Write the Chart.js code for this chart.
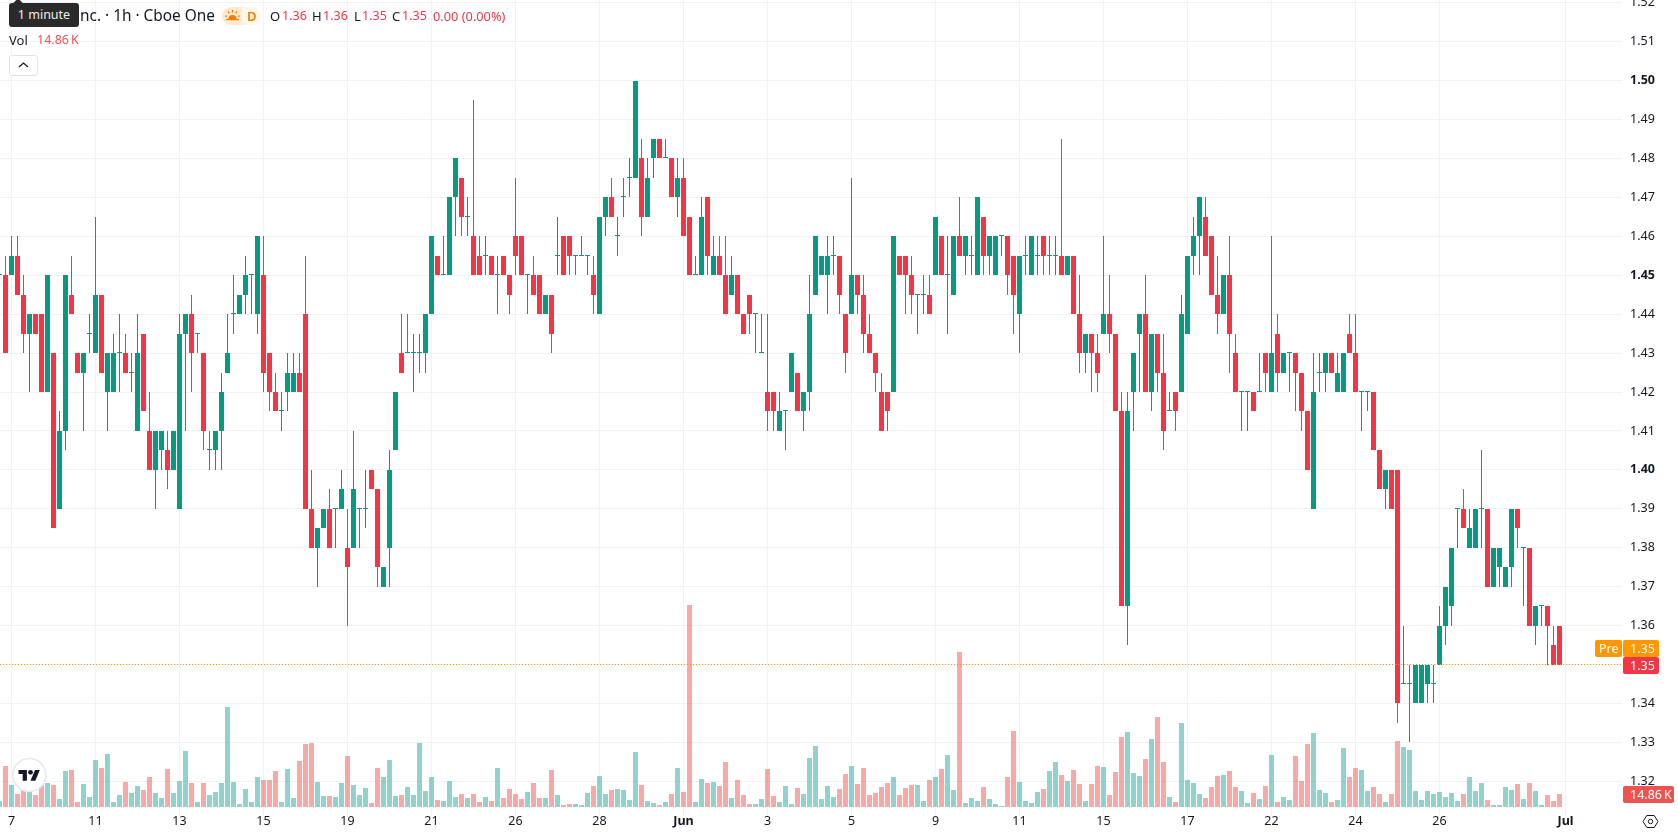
<!DOCTYPE html>
<html>
<head>
<meta charset="utf-8">
<title>1h chart</title>
<script src="https://cdn.jsdelivr.net/npm/chart.js@4/dist/chart.umd.min.js"></script>
<style>
  html, body { margin: 0; padding: 0; background: #fff; overflow: hidden; }
  body { width: 1678px; height: 835px; position: relative; font-family: "Noto Sans", sans-serif; font-size: 12.5px; color: #131722; }
  canvas { position: absolute; left: 0; top: 0; }
  .t { position: absolute; white-space: nowrap; line-height: 18px; }
  .red { color: #f23645; }
  .pill { position: absolute; left: 222px; top: 7px; width: 39px; height: 18px; border-radius: 9px; overflow: hidden; background: #fff6ea; }
  .pill i { position: absolute; left: 0; top: 0; width: 20px; height: 18px; background: #ffe9cf; }
  .tip { position: absolute; left: 9px; top: 3px; width: 70px; height: 24px; border-radius: 3px; background: #2a2a2a; color: #eee; text-align: center; line-height: 24px; }
  .tip:before { content: ""; position: absolute; left: 5px; top: -3px; width: 8px; height: 8px; background: #2a2a2a; transform: rotate(45deg); }
  .btn { position: absolute; left: 9px; top: 55px; width: 27px; height: 19px; border: 1px solid #e0e3eb; border-radius: 3px; background: #fff; }
  svg { position: absolute; }
</style>
</head>
<body>
<canvas id="chart" width="1678" height="835"></canvas>

<div class="t" style="left:80px;top:6px;font-size:15.4px;line-height:20px">nc. · 1h · Cboe One</div>
<div class="tip">1 minute</div>
<div class="pill"><i></i></div>
<svg style="left:225px;top:9px" width="15" height="13" viewBox="0 0 15 13" fill="#f57c00">
  <path d="M3.5 10a4 4 0 0 1 8 0z"/><rect x="1" y="10" width="13" height="1.2"/>
  <rect x="6.9" y="1" width="1.2" height="2.6"/><rect x="0" y="6.5" width="2" height="1.2"/><rect x="13" y="6.5" width="2" height="1.2"/>
  <path d="M2.6 2.8l1-.7 1.2 1.9-1 .7zM12.4 2.8l-1-.7-1.2 1.9 1 .7z"/>
</svg>
<div class="t" style="left:247px;top:7px;color:#f57c00;font-weight:600;font-size:13px">D</div>
<div class="t" style="left:270px;top:7px;font-size:13px">O</div><div class="t red" style="left:282px;top:7px">1.36</div>
<div class="t" style="left:312px;top:7px;font-size:13px">H</div><div class="t red" style="left:323px;top:7px">1.36</div>
<div class="t" style="left:354px;top:7px;font-size:13px">L</div><div class="t red" style="left:362px;top:7px">1.35</div>
<div class="t" style="left:392px;top:7px;font-size:13px">C</div><div class="t red" style="left:402px;top:7px">1.35</div>
<div class="t red" style="left:433px;top:7px;font-size:12.8px">0.00 (0.00%)</div>
<div class="t" style="left:9px;top:31px;font-size:13px">Vol</div>
<div class="t" style="left:37px;top:31px;color:#ef5350">14.86&#8201;K</div>
<div class="btn"></div>
<svg style="left:17px;top:61px" width="13" height="8" viewBox="0 0 13 8" fill="none" stroke="#131722" stroke-width="1.3"><path d="M2 6l4.5-4 4.5 4"/></svg>

<svg style="left:11px;top:756px" width="37" height="37" viewBox="0 0 37 37">
  <circle cx="18.3" cy="19" r="16.5" fill="#fff" stroke="#e9e9e9" stroke-width="1.6"/>
  <g transform="translate(7.5 11.5) scale(0.6)" fill="#131722">
    <path d="M14 22H7V11H0V4h14v18zM28 22h-8l7.5-18h8L28 22z"/><circle cx="20" cy="8" r="4"/>
  </g>
</svg>
<svg style="left:1642px;top:814px" width="17" height="15" viewBox="0 0 17 15" fill="none" stroke="#131722" stroke-width="1">
  <path d="M1 7.5L4.8 1.5h7.4L16 7.5l-3.8 6H4.8z"/><circle cx="8.5" cy="7.5" r="2.2"/>
</svg>

<script>
// hourly candles, left to right
const opens = [
  1.45,1.45,1.45,1.455,1.445,1.435,1.44,1.44,1.42,1.43,1.39,1.41,1.445,1.43,1.425,1.435,1.43,1.445,1.42,1.42,
  1.43,1.43,1.425,1.41,1.435,1.41,1.40,1.405,1.405,1.40,1.39,1.435,1.44,1.435,1.43,1.405,1.405,1.41,1.425,1.44,
  1.44,1.445,1.45,1.44,1.45,1.43,1.42,1.415,1.42,1.42,1.425,1.44,1.39,1.38,1.385,1.39,1.39,1.39,1.38,1.38,
  1.39,1.39,1.40,1.395,1.37,1.38,1.405,1.43,1.43,1.43,1.43,1.43,1.44,1.455,1.45,1.45,1.47,1.475,1.465,1.46,
  1.455,1.455,1.455,1.45,1.455,1.45,1.46,1.46,1.45,1.45,1.45,1.44,1.445,1.455,1.46,1.46,1.455,1.455,1.455,1.45,
  1.44,1.465,1.47,1.46,1.47,1.475,1.475,1.48,1.465,1.48,1.485,1.48,1.48,1.47,1.475,1.465,1.45,1.45,1.47,1.45,
  1.455,1.45,1.445,1.45,1.44,1.445,1.44,1.43,1.42,1.42,1.41,1.415,1.42,1.425,1.415,1.42,1.445,1.45,1.45,1.455,
  1.455,1.44,1.44,1.45,1.445,1.435,1.43,1.42,1.42,1.42,1.455,1.455,1.45,1.445,1.445,1.445,1.45,1.46,1.45,1.445,
  1.46,1.455,1.455,1.45,1.465,1.455,1.45,1.46,1.46,1.455,1.44,1.455,1.45,1.455,1.46,1.455,1.455,1.455,1.45,1.455,
  1.44,1.43,1.435,1.43,1.435,1.44,1.435,1.415,1.365,1.42,1.435,1.44,1.42,1.435,1.425,1.415,1.42,1.42,1.435,1.455,
  1.46,1.465,1.46,1.445,1.44,1.45,1.43,1.42,1.42,1.42,1.42,1.43,1.42,1.435,1.425,1.43,1.43,1.425,1.415,1.39,
  1.425,1.425,1.43,1.42,1.42,1.435,1.43,1.42,1.42,1.42,1.405,1.395,1.40,1.40,1.345,1.345,1.34,1.34,1.345,1.345,
  1.35,1.36,1.365,1.39,1.39,1.38,1.38,1.39,1.39,1.37,1.375,1.37,1.375,1.39,1.38,1.38,1.36,1.365,1.365,1.355,1.36
];
const highs = [
  1.45,1.455,1.46,1.46,1.45,1.44,1.44,1.44,1.45,1.43,1.415,1.45,1.455,1.43,1.43,1.44,1.465,1.445,1.43,1.435,
  1.44,1.435,1.43,1.44,1.435,1.42,1.41,1.41,1.41,1.41,1.44,1.44,1.445,1.435,1.43,1.41,1.41,1.425,1.44,1.45,
  1.445,1.455,1.45,1.46,1.46,1.43,1.425,1.42,1.43,1.43,1.43,1.455,1.40,1.385,1.39,1.395,1.39,1.40,1.39,1.41,
  1.39,1.40,1.40,1.395,1.375,1.405,1.42,1.44,1.44,1.435,1.435,1.44,1.46,1.455,1.46,1.47,1.48,1.475,1.47,1.495,
  1.46,1.46,1.455,1.455,1.455,1.45,1.475,1.46,1.45,1.455,1.45,1.445,1.445,1.465,1.46,1.46,1.455,1.46,1.455,1.455,
  1.465,1.47,1.475,1.465,1.475,1.48,1.50,1.485,1.48,1.485,1.485,1.485,1.48,1.48,1.48,1.465,1.455,1.47,1.47,1.46,
  1.46,1.46,1.455,1.45,1.44,1.445,1.44,1.44,1.44,1.42,1.42,1.415,1.43,1.425,1.42,1.45,1.46,1.455,1.46,1.46,
  1.455,1.44,1.475,1.45,1.45,1.44,1.43,1.425,1.42,1.46,1.455,1.455,1.455,1.445,1.45,1.45,1.465,1.46,1.46,1.46,
  1.47,1.46,1.46,1.47,1.465,1.46,1.46,1.46,1.46,1.455,1.455,1.46,1.46,1.46,1.46,1.46,1.46,1.485,1.455,1.455,
  1.45,1.435,1.435,1.435,1.46,1.45,1.435,1.42,1.42,1.43,1.44,1.45,1.435,1.435,1.435,1.42,1.42,1.445,1.455,1.465,
  1.47,1.47,1.46,1.455,1.45,1.46,1.435,1.42,1.42,1.42,1.43,1.43,1.46,1.44,1.43,1.43,1.43,1.425,1.415,1.43,
  1.43,1.43,1.43,1.43,1.43,1.44,1.44,1.42,1.42,1.42,1.405,1.40,1.40,1.40,1.36,1.35,1.35,1.35,1.35,1.35,
  1.365,1.37,1.38,1.39,1.395,1.39,1.39,1.405,1.39,1.38,1.38,1.375,1.39,1.39,1.38,1.38,1.365,1.365,1.365,1.36,1.36
];
const lows = [
  1.45,1.43,1.45,1.445,1.43,1.42,1.435,1.42,1.42,1.385,1.39,1.405,1.44,1.425,1.41,1.43,1.43,1.425,1.41,1.42,
  1.42,1.425,1.42,1.41,1.415,1.40,1.39,1.40,1.395,1.40,1.39,1.41,1.42,1.43,1.405,1.40,1.40,1.40,1.425,1.435,
  1.44,1.44,1.44,1.435,1.42,1.415,1.415,1.41,1.415,1.42,1.42,1.39,1.38,1.37,1.385,1.38,1.38,1.39,1.36,1.38,
  1.38,1.385,1.395,1.37,1.37,1.37,1.405,1.425,1.43,1.42,1.425,1.425,1.44,1.45,1.45,1.45,1.46,1.46,1.46,1.45,
  1.45,1.45,1.45,1.44,1.45,1.44,1.45,1.45,1.44,1.445,1.44,1.44,1.43,1.45,1.45,1.45,1.45,1.455,1.45,1.44,
  1.44,1.46,1.465,1.455,1.465,1.47,1.475,1.46,1.465,1.475,1.48,1.48,1.47,1.465,1.46,1.45,1.45,1.45,1.45,1.45,
  1.45,1.44,1.445,1.44,1.435,1.435,1.43,1.43,1.41,1.41,1.41,1.405,1.42,1.415,1.41,1.415,1.445,1.45,1.44,1.45,
  1.44,1.425,1.44,1.44,1.43,1.43,1.42,1.41,1.41,1.42,1.45,1.44,1.44,1.435,1.44,1.44,1.45,1.45,1.435,1.445,
  1.455,1.45,1.45,1.45,1.45,1.45,1.45,1.455,1.445,1.435,1.43,1.45,1.45,1.45,1.45,1.45,1.45,1.45,1.45,1.44,
  1.425,1.425,1.42,1.42,1.435,1.43,1.415,1.365,1.355,1.41,1.42,1.42,1.415,1.42,1.405,1.415,1.41,1.42,1.435,1.45,
  1.45,1.455,1.445,1.435,1.44,1.425,1.42,1.41,1.41,1.415,1.42,1.42,1.42,1.42,1.425,1.42,1.415,1.41,1.40,1.39,
  1.42,1.42,1.425,1.42,1.42,1.43,1.42,1.41,1.415,1.405,1.395,1.39,1.39,1.335,1.345,1.33,1.34,1.34,1.34,1.34,
  1.35,1.355,1.36,1.38,1.385,1.38,1.38,1.38,1.37,1.37,1.37,1.37,1.37,1.38,1.365,1.36,1.355,1.36,1.35,1.35,1.35
];
const closes = [
  1.45,1.43,1.455,1.445,1.435,1.44,1.435,1.42,1.45,1.385,1.41,1.45,1.44,1.425,1.43,1.435,1.445,1.425,1.43,1.43,
  1.43,1.425,1.425,1.43,1.415,1.40,1.41,1.41,1.40,1.41,1.435,1.44,1.43,1.435,1.41,1.405,1.41,1.42,1.43,1.44,
  1.445,1.45,1.45,1.46,1.425,1.42,1.415,1.415,1.425,1.425,1.42,1.39,1.38,1.385,1.39,1.38,1.39,1.395,1.375,1.395,
  1.39,1.39,1.395,1.375,1.375,1.40,1.42,1.425,1.43,1.43,1.43,1.44,1.46,1.45,1.45,1.47,1.48,1.465,1.465,1.45,
  1.45,1.455,1.45,1.45,1.45,1.445,1.455,1.45,1.45,1.445,1.44,1.445,1.435,1.455,1.45,1.455,1.455,1.455,1.455,1.445,
  1.465,1.47,1.465,1.46,1.47,1.475,1.50,1.465,1.475,1.485,1.48,1.48,1.47,1.475,1.46,1.45,1.45,1.465,1.455,1.455,
  1.45,1.44,1.45,1.44,1.435,1.44,1.44,1.43,1.415,1.415,1.415,1.415,1.43,1.415,1.42,1.44,1.46,1.455,1.455,1.455,
  1.445,1.43,1.45,1.445,1.435,1.43,1.425,1.41,1.415,1.46,1.45,1.45,1.445,1.445,1.445,1.44,1.465,1.45,1.45,1.46,
  1.455,1.46,1.455,1.47,1.455,1.46,1.46,1.46,1.45,1.445,1.455,1.455,1.46,1.455,1.455,1.455,1.455,1.45,1.455,1.44,
  1.43,1.435,1.43,1.425,1.44,1.435,1.415,1.365,1.415,1.43,1.44,1.42,1.435,1.425,1.41,1.415,1.415,1.44,1.455,1.46,
  1.47,1.455,1.445,1.44,1.45,1.435,1.42,1.42,1.42,1.415,1.42,1.425,1.43,1.425,1.43,1.43,1.425,1.415,1.40,1.42,
  1.425,1.43,1.425,1.425,1.43,1.43,1.42,1.42,1.42,1.405,1.395,1.40,1.39,1.34,1.345,1.345,1.35,1.35,1.35,1.345,
  1.36,1.37,1.38,1.39,1.385,1.385,1.39,1.39,1.37,1.38,1.38,1.375,1.39,1.385,1.38,1.36,1.365,1.365,1.36,1.35,1.35
];
// volume in thousands
const volumes = [
  6.9,46.9,25.1,14.9,19.4,17.1,13.7,25.1,27.4,25.1,9.1,41.1,42.3,5.7,26.3,11.4,53.7,44.6,60.6,5.7,
  13.7,28.6,16.0,24.0,19.4,34.3,16.0,10.3,43.4,16.0,29.7,64.0,27.4,5.7,27.4,13.7,17.1,27.4,114.3,28.6,
  3.4,20.6,5.7,34.3,30.9,30.9,41.1,5.7,43.4,10.3,52.6,72.0,73.2,28.6,12.6,12.6,11.4,27.4,58.3,25.1,
  13.7,21.7,4.6,44.6,34.3,53.7,12.6,13.7,22.9,13.7,73.2,18.3,34.3,8.0,6.9,29.7,11.4,14.9,10.3,14.9,
  5.7,11.4,6.9,44.6,10.3,20.6,14.9,9.1,17.1,27.4,10.3,10.3,42.3,13.7,2.3,3.4,3.4,2.3,16.0,24.0,
  35.4,14.9,19.4,20.6,19.4,8.0,62.9,25.1,6.9,4.6,2.3,5.7,14.9,44.6,17.1,230.9,5.7,32.0,27.4,28.6,
  24.0,51.4,10.3,30.9,13.7,3.4,3.4,9.1,43.4,12.6,5.7,24.0,3.4,21.7,14.9,56.0,69.7,9.1,24.0,11.4,
  20.6,37.7,46.9,26.3,44.6,13.7,16.0,22.9,27.4,34.3,13.7,21.7,25.1,25.1,6.9,30.9,34.3,43.4,59.4,19.4,
  177.2,4.6,10.3,6.9,22.9,9.1,3.4,1.1,34.3,86.9,28.6,6.9,4.6,17.1,20.6,41.1,51.4,36.6,29.7,42.3,
  26.3,6.9,26.3,46.9,45.7,13.7,40.0,80.0,85.7,38.9,35.4,54.9,77.7,102.9,51.4,11.4,5.7,96.0,30.9,27.4,
  14.9,10.3,22.9,35.4,36.6,41.1,22.9,18.3,4.6,16.0,9.1,24.0,59.4,5.7,11.4,8.0,58.3,29.7,72.0,84.6,
  19.4,16.0,5.7,8.0,67.4,34.3,44.6,42.3,18.3,22.9,14.9,5.7,14.9,75.4,68.6,65.2,18.3,8.0,18.3,14.9,
  17.1,11.4,16.0,6.9,14.9,34.3,18.3,27.4,8.0,2.3,2.3,22.9,19.4,26.3,9.1,27.4,18.3,2.3,13.7,6.9,14.86
];
// price axis
const priceTicks = [1.32,1.33,1.34,1.35,1.36,1.37,1.38,1.39,1.40,1.41,1.42,1.43,1.44,1.45,1.46,1.47,1.48,1.49,1.50,1.51,1.52];
const boldPrices = [1.40,1.45,1.50];
// time axis: bar index of each label
const timeTicks = [2,16,30,44,58,72,86,100,114,128,142,156,170,184,198,212,226,240,261];
const timeLabels = ["7","11","13","15","19","21","26","28","Jun","3","5","9","11","15","17","22","24","26","Jul"];
const boldTimes = ["Jun","Jul"];

const green = "#089981", red = "#f23645";
const volGreen = "rgba(38,166,154,0.5)", volRed = "rgba(239,83,80,0.5)";
const orange = "#ff9800";
const font = "Noto Sans";
const lastIdx = closes.length - 1;
const isUp = i => closes[i] >= opens[i];

const bars = closes.map((c, i) => i);
const xMin = 1 / 12, xMax = 1622.5 / 6;   // 6px per bar, bar 0 half off the left edge

// snap bars to whole pixels, TradingView style, and give dojis a 1px tick
const crispBars = {
  id: "crispBars",
  beforeDatasetsDraw(chart) {
    chart.getSortedVisibleDatasetMetas().forEach(meta => {
      if (meta.type !== "bar") return;
      meta.data.forEach(el => {
        const top = Math.round(Math.min(el.y, el.base));
        let bottom = Math.round(Math.max(el.y, el.base));
        if (bottom <= top) bottom = top + 1;
        el.x = Math.floor(el.x) + 0.5;
        el.y = top;
        el.base = bottom;
      });
    });
  }
};

function tag(ctx, x, y, w, h, color, text, textX) {
  ctx.fillStyle = color;
  ctx.beginPath();
  ctx.roundRect(x, y, w, h, 2);
  ctx.fill();
  ctx.fillStyle = "#fff";
  ctx.textAlign = "left";
  ctx.textBaseline = "middle";
  ctx.fillText(text, textX, y + h / 2 + 0.5);
}

// boxes on the price axis
const axisTags = {
  id: "axisTags",
  afterDraw(chart) {
    const ctx = chart.ctx;
    const py = Math.round(chart.scales.y.getPixelForValue(closes[lastIdx]));
    const vy = Math.round(chart.scales.vol.getPixelForValue(volumes[lastIdx]));
    ctx.save();
    ctx.font = "12.5px '" + font + "'";
    tag(ctx, 1623, vy - 8, 51, 17, "#ef5350", volumes[lastIdx].toFixed(2) + "\u2009K", 1630);
    tag(ctx, 1595, py - 25, 27, 17, orange, "Pre", 1599);
    tag(ctx, 1623, py - 25, 36, 17, orange, closes[lastIdx].toFixed(2), 1630);
    tag(ctx, 1623, py - 8, 36, 17, red, closes[lastIdx].toFixed(2), 1630);
    ctx.restore();
  }
};

new Chart(document.getElementById("chart"), {
  type: "bar",
  plugins: [crispBars, axisTags],
  data: {
    datasets: [
      {
        type: "line",
        order: 0,
        yAxisID: "y",
        data: [{ x: xMin, y: closes[lastIdx] }, { x: xMax, y: closes[lastIdx] }],
        borderColor: orange,
        borderWidth: 1,
        borderDash: [1, 2],
        pointRadius: 0
      },
      {
        order: 1,
        yAxisID: "y",
        data: bars.map(i => ({ x: i, y: [opens[i], closes[i]] })),
        backgroundColor: bars.map(i => isUp(i) ? green : red),
        maxBarThickness: 5,
        minBarLength: 1
      },
      {
        order: 2,
        yAxisID: "y",
        data: bars.map(i => ({ x: i, y: [lows[i], highs[i]] })),
        backgroundColor: bars.map(i => isUp(i) ? green : red),
        maxBarThickness: 1
      },
      {
        order: 3,
        yAxisID: "vol",
        data: bars.map(i => ({ x: i, y: volumes[i] })),
        backgroundColor: bars.map(i => isUp(i) ? volGreen : volRed),
        maxBarThickness: 5
      }
    ]
  },
  options: {
    responsive: false,
    animation: false,
    events: [],
    grouped: false,
    inflateAmount: 0,
    borderWidth: 0,
    barThickness: 5,
    layout: { padding: 0 },
    plugins: { legend: { display: false }, tooltip: { enabled: false } },
    scales: {
      x: {
        type: "linear",
        offset: false,
        min: xMin,
        max: xMax,
        afterBuildTicks: s => { s.ticks = timeTicks.map(v => ({ value: v })); },
        afterFit: s => { s.height = 19; s.paddingLeft = 0; s.paddingRight = 0; },
        grid: { color: "#f2f2f3", drawTicks: false, offset: false },
        border: { display: false },
        ticks: {
          autoSkip: false,
          maxRotation: 0,
          padding: -2,
          color: "#131722",
          font: ctx => ({ family: font, size: 12.5, weight: boldTimes.includes(timeLabels[ctx.index]) ? "bold" : "normal" }),
          callback: (v, i) => timeLabels[i]
        }
      },
      y: {
        position: "right",
        min: 1.31108,
        max: 1.52071,
        afterBuildTicks: s => { s.ticks = priceTicks.map(v => ({ value: v })); },
        afterFit: s => { s.width = 56; s.paddingTop = 0; s.paddingBottom = 0; },
        grid: { color: "#f2f2f3", drawTicks: false },
        border: { display: false },
        ticks: {
          autoSkip: false,
          padding: 8,
          color: "#131722",
          font: ctx => ({ family: font, size: 12.5, weight: ctx.tick && boldPrices.includes(ctx.tick.value) ? "bold" : "normal" }),
          callback: v => v.toFixed(2)
        }
      },
      // volume sits in the same pane, 1.143K per pixel up from y=807
      vol: {
        display: false,
        min: -10.3,
        max: 922.4
      }
    }
  }
});
</script>
</body>
</html>
